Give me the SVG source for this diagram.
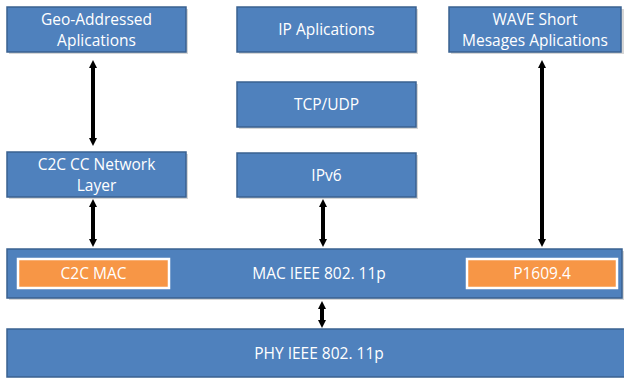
<svg xmlns="http://www.w3.org/2000/svg" width="624" height="378" viewBox="0 0 624 378">
  <defs>
    <marker id="ah" viewBox="0 0 10 10" refX="5" refY="5" markerWidth="2.4" markerHeight="2" orient="auto-start-reverse" markerUnits="strokeWidth">
      <path d="M0,0 L10,5 L0,10 z" fill="#000"/>
    </marker>
  </defs>
  <style>
    .box { fill: #4F81BD; stroke: #3A6190; stroke-width: 1.5; }
    .shadow { fill: #8a8a8a; opacity: 0.35; }
    .sub { fill: #F79646; stroke: #ffffff; stroke-width: 2.5; }
    .t { font-family: "Open Sans", "Liberation Sans", sans-serif; font-size: 15.5px; fill: #ffffff; text-anchor: middle; }
    .arrow { stroke: #000; stroke-width: 4; fill: none; marker-start: url(#ah); marker-end: url(#ah); }
  </style>

  <rect width="624" height="378" fill="#ffffff"/>

  <g id="geo-apps">
    <rect class="shadow" x="9" y="9" width="179" height="45"/>
    <rect class="box" x="7" y="7" width="179" height="45"/>
    <text class="t" x="96.5" y="25">Geo-Addressed</text>
    <text class="t" x="96.5" y="46">Aplications</text>
  </g>

  <g id="ip-apps">
    <rect class="shadow" x="239" y="9" width="179" height="45"/>
    <rect class="box" x="237" y="7" width="179" height="45"/>
    <text class="t" x="326.5" y="35">IP Aplications</text>
  </g>

  <g id="wave-apps">
    <rect class="shadow" x="451" y="9" width="173" height="45"/>
    <rect class="box" x="449" y="7" width="172" height="45"/>
    <text class="t" x="535" y="25">WAVE Short</text>
    <text class="t" x="535" y="46">Mesages Aplications</text>
  </g>

  <g id="tcp-udp">
    <rect class="shadow" x="239" y="84" width="179" height="45"/>
    <rect class="box" x="237" y="82" width="179" height="45"/>
    <text class="t" x="326.5" y="110">TCP/UDP</text>
  </g>

  <g id="c2c-network">
    <rect class="shadow" x="9" y="154" width="179" height="45"/>
    <rect class="box" x="7" y="152" width="179" height="45"/>
    <text class="t" x="96.5" y="170">C2C CC Network</text>
    <text class="t" x="96.5" y="191">Layer</text>
  </g>

  <g id="ipv6">
    <rect class="shadow" x="239" y="155" width="179" height="44"/>
    <rect class="box" x="237" y="153" width="179" height="44"/>
    <text class="t" x="326.5" y="181">IPv6</text>
  </g>

  <g id="mac">
    <rect class="shadow" x="9" y="251" width="615" height="49"/>
    <rect class="box" x="7" y="249" width="615" height="49"/>
    <text class="t" x="319" y="279">MAC IEEE 802. 11p</text>
  </g>

  <g id="c2c-mac">
    <rect class="sub" x="18" y="259" width="151" height="29"/>
    <text class="t" x="93.5" y="279">C2C MAC</text>
  </g>

  <g id="p1609">
    <rect class="sub" x="467" y="259" width="150" height="29"/>
    <text class="t" x="542" y="279">P1609.4</text>
  </g>

  <g id="phy">
    <rect class="box" x="7" y="329" width="620" height="48"/>
    <text class="t" x="319" y="359">PHY IEEE 802. 11p</text>
  </g>

  <g id="connectors">
    <line class="arrow" x1="93" y1="64" x2="93" y2="142"/>
    <line class="arrow" x1="93" y1="203" x2="93" y2="243"/>
    <line class="arrow" x1="323" y1="203" x2="323" y2="243"/>
    <line class="arrow" x1="542" y1="64" x2="542" y2="243"/>
    <line class="arrow" x1="322" y1="305" x2="322" y2="324"/>
  </g>
</svg>
